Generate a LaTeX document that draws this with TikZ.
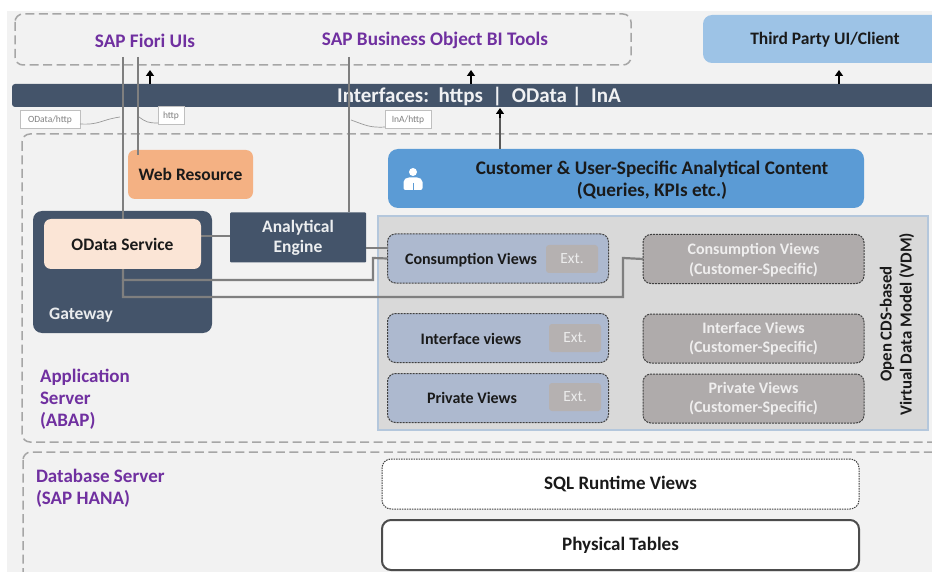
\documentclass[tikz,border=0pt]{standalone}
\usepackage{fontspec}
\setmainfont{Carlito}
\usetikzlibrary{arrows.meta}
\definecolor{bgpanel}{HTML}{F2F2F2}
\definecolor{navy}{HTML}{44546A}
\definecolor{zonegrey}{HTML}{A6A6A6}
\definecolor{wire}{HTML}{7F7F7F}
\definecolor{purp}{HTML}{7030A0}
\definecolor{viewblue}{HTML}{ADB9CF}
\definecolor{viewgrey}{HTML}{AFABAB}
\definecolor{extgrey}{HTML}{B5B1B1}
\definecolor{vdmfill}{HTML}{D9D9D9}
\definecolor{vdmline}{HTML}{B4C7DC}
\definecolor{custblue}{HTML}{5B9BD5}
\definecolor{thirdblue}{HTML}{9DC3E6}
\definecolor{orangebox}{HTML}{F4B183}
\definecolor{peach}{HTML}{FBE5D6}
\definecolor{ink}{HTML}{1A1A1A}
\tikzset{
  x=1pt,y=-1pt,
  every node/.style={inner sep=0pt,outer sep=0pt,align=center,font=\bfseries\fontsize{17.5}{22}\selectfont,text=ink},
  zone/.style={draw=zonegrey,line width=1.5pt,dash pattern=on 9pt off 4.5pt,rounded corners=8pt},
  plainbox/.style={rounded corners=7pt},
  viewbox/.style={rounded corners=8pt,draw=black!75,line width=1pt,dash pattern=on 2pt off 1pt,minimum width=221pt,minimum height=49pt},
  viewtext/.style={font=\bfseries\fontsize{16}{20}\selectfont},
  blueview/.style={viewbox,fill=viewblue},
  greyview/.style={viewbox,fill=viewgrey,text=white!80!viewgrey,font=\bfseries\fontsize{16}{19.5}\selectfont},
  extbox/.style={rounded corners=3pt,fill=extgrey,text=white!75!extgrey,minimum width=52pt,minimum height=28pt,font=\fontsize{15.5}{17}\selectfont},
  wireline/.style={draw=wire,line width=2.2pt},
  upward/.style={draw=black,line width=1.4pt,-{Triangle[length=6pt,width=8pt]}},
  protocol/.style={draw=black!25,fill=white,line width=1pt,minimum height=18pt,text=black!50,font=\fontsize{9.5}{11}\selectfont},
  tether/.style={draw=black!40,line width=.7pt},
  zonetitle/.style={text=purp,font=\bfseries\fontsize{19}{22}\selectfont,align=left,anchor=north west},
  purplabel/.style={text=purp,font=\bfseries\fontsize{19.2}{22}\selectfont},
}
\begin{document}
\begin{tikzpicture}
\useasboundingbox (0,0) rectangle (932,572);
\begin{scope}
\clip (0,0) rectangle (932,572);
\fill[bgpanel] (7,11) rectangle (932,572);
% zones
\draw[zone] (15,14) rectangle (631,65);
\draw[zone] (22,134) rectangle (950,442);
\draw[zone] (23,452) rectangle (950,590);
% top row
\node[purplabel] (fiori) at (145,41) {SAP Fiori UIs};
\node[purplabel] (bobi) at (435,40) {SAP Business Object BI Tools};
\node[plainbox,fill=thirdblue,minimum width=240pt,minimum height=48pt,rounded corners=9pt] (thirdbg) at (823,39) {};
\node (third) at (825,40) {Third Party UI/Client};
% interface band
\node[fill=navy,rounded corners=3pt,minimum width=940pt,minimum height=23pt,anchor=west,text=white] (band) at (12,95.5) {};
\node[text=white!92!navy,font=\bfseries\fontsize{21}{22}\selectfont] (ifacetext) at (479,97) {Interfaces:\ \ https\ \ |\ \ OData\ |\ \ InA};
% application boxes
\node[plainbox,fill=orangebox,minimum width=125pt,minimum height=49pt] (web) at (190.5,174.5) {Web Resource};
\node[plainbox,fill=custblue,minimum width=476pt,minimum height=59pt,rounded corners=10pt,text=ink] (cust) at (626,178.5) {};
\node[font=\bfseries\fontsize{19.2}{22}\selectfont] (custtext) at (652,180) {Customer \& User-Specific Analytical Content\\(Queries, KPIs etc.)};
\node[fill=navy,rounded corners=9pt,minimum width=179pt,minimum height=122pt] (gateway) at (122.5,272) {};
\node[text=white!88!navy] (gatewaytext) at (81,315) {Gateway};
\node[fill=navy,rounded corners=1pt,minimum width=136pt,minimum height=50pt,text=white!90!navy,font=\bfseries\fontsize{17.5}{20}\selectfont] (engine) at (298,237.5) {Analytical\\Engine};
% VDM
\node[fill=vdmfill,draw=vdmline,line width=2pt,minimum width=550pt,minimum height=214pt] (vdm) at (653,323) {};
\node[rotate=90,font=\bfseries\fontsize{16.8}{20}\selectfont] (vdmtext) at (897,324) {Open CDS-based\\Virtual Data Model (VDM)};
\node[blueview] (cons) at (498,258.5) {};
\node[blueview] (intf) at (498,338) {};
\node[blueview] (priv) at (498,398) {};
\node[viewtext] (constext) at (471,260) {Consumption Views};
\node[viewtext] (intftext) at (471,339) {Interface views};
\node[viewtext] (privtext) at (472,398) {Private Views};
\node[extbox] (consext) at (572,259) {Ext.};
\node[extbox] (intfext) at (575,338) {Ext.};
\node[extbox] (privext) at (575,397) {Ext.};
\node[greyview,text depth=0pt] (ccons) at (753.5,259) {Consumption Views\\(Customer-Specific)};
\node[greyview] (cintf) at (753.5,338.5) {Interface Views\\(Customer-Specific)};
\node[greyview] (cpriv) at (753.5,398.5) {Private Views\\(Customer-Specific)};
% database
\node[fill=white,rounded corners=9pt,draw=black!75,line width=1pt,dash pattern=on 1.5pt off 1pt,minimum width=477pt,minimum height=50pt,font=\bfseries\fontsize{19}{22}\selectfont] (sql) at (620.5,484) {SQL Runtime Views};
\node[fill=white,rounded corners=9pt,draw=black!70,line width=2pt,minimum width=477pt,minimum height=50pt,font=\bfseries\fontsize{19}{22}\selectfont] (phys) at (620.5,545) {Physical Tables};
% zone titles
\node[zonetitle] (apptitle) at (40,369) {Application\\Server\\(ABAP)};
\node[zonetitle] (dbtitle) at (36,469.5) {Database Server\\(SAP HANA)};
% free ends
\coordinate (fa) at (123,57);
\coordinate (fb) at (138,57);
\coordinate (fc) at (349,57);
\coordinate (webin) at (138,155);
\coordinate (tapa) at (120,117);
\coordinate (tapb) at (139,117);
\coordinate (tapc) at (351,120);
% wires
\draw[wireline] (fb) -- (webin);
\draw[wireline] (fc) -- (fc |- engine.north);
\draw[wireline] (fa) -- (123,269);
\draw[wireline] (123,269) -- (123,280) -- (373,280) -- (373,258) -- (cons.west);
\draw[wireline] (123,280) -- (123,297) -- (623,297) -- (623,258) -- (ccons.west);
\draw[wireline] (201,236) -- (engine.west |- 0,236);
\draw[wireline] (engine.east |- 0,248) -- (cons.west |- 0,248);
% OData on top of its wire ends
\node[fill=peach,rounded corners=7pt,minimum width=157pt,minimum height=50pt] (odata) at (122.5,244) {OData Service};
% protocol labels
\node[protocol,minimum width=60pt] (lblodata) at (50,120) {OData/http};
\node[protocol,minimum width=26pt] (lblhttp) at (171,116) {http};
\node[protocol,minimum width=46pt] (lblina) at (408,120) {InA/http};
\draw[tether] (lblodata.east |- 0,124) .. controls (100,125) and (100,120) .. (tapa);
\draw[tether] (tapb) .. controls (146,122) and (148,123) .. (lblhttp.west |- 0,123);
\draw[tether] (tapc) .. controls (365,125) and (370,128) .. (lblina.west |- 0,127);
% arrows
\draw[upward] (band.north -| 150,0) -- (150,70);
\draw[upward] (band.north -| 471,0) -- (471,70);
\draw[upward] (band.north -| 839,0) -- (839,70);
\draw[draw=wire!70!black,line width=2pt] (cust.north -| 500,0) -- (500,116);
\draw[upward,line width=1.2pt] (500,118) -- (500,108);
% person icon
\fill[white] (413,172) circle (4pt);
\fill[white,rounded corners=2pt] (403.5,190) -- (403.5,180) -- (407,177.5) -- (419,177.5) -- (422.5,180) -- (422.5,190) -- cycle;
\draw[custblue,line width=.6pt] (413,183) -- (413,190);
\end{scope}
\end{tikzpicture}
\end{document}
